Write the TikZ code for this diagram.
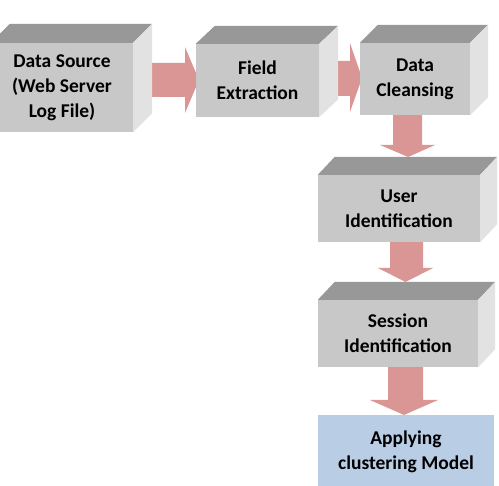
\documentclass[tikz,border=0pt]{standalone}
\usepackage{fontspec}
\setmainfont{Carlito}
\definecolor{frontgray}{HTML}{C8C8C8}
\definecolor{topgray}{HTML}{989898}
\definecolor{sidegray}{HTML}{E2E2E2}
\definecolor{arrowpink}{HTML}{D99694}
\definecolor{modelblue}{HTML}{B9CDE5}
\tikzset{
  face/.style={fill=frontgray, draw=none, align=center, inner sep=0pt,
    font=\fontsize{19.5}{25}\selectfont\bfseries, text=black},
  bluebox/.style={fill=modelblue, draw=none, align=center, inner sep=0pt,
    font=\fontsize{19.5}{25}\selectfont\bfseries, text=black},
  topface/.style={fill=topgray, draw=none},
  sideface/.style={fill=sidegray, draw=none},
  blockarrow/.style={fill=arrowpink, draw=none}
}
\newcommand{\cubefaces}[3]{%
  \fill[topface] (#1.north west) -- ++(#2,-#3) -- ([shift={(#2,-#3)}]#1.north east) -- (#1.north east) -- cycle;
  \fill[sideface] (#1.north east) -- ++(#2,-#3) -- ([shift={(#2,-#3)}]#1.south east) -- (#1.south east) -- cycle;
}
\begin{document}
\begin{tikzpicture}[x=1pt,y=-1pt]
\useasboundingbox (0,0) rectangle (499,486);
\clip (0,0) rectangle (499,486);
% invisible placement of the named boxes
\path (62,87.5) coordinate (srcc) (257.5,80.5) coordinate (fldc) (415,79) coordinate (clnc)
      (399,208.5) coordinate (usrc) (398,333.5) coordinate (sesc) (406,452) coordinate (mdlc);
\path node[minimum width=142pt, minimum height=89pt, inner sep=0pt] (src) at (srcc) {}
      node[minimum width=123pt, minimum height=73pt, inner sep=0pt] (fld) at (fldc) {}
      node[minimum width=110pt, minimum height=72pt, inner sep=0pt] (cln) at (clnc) {}
      node[minimum width=162pt, minimum height=67pt, inner sep=0pt] (usr) at (usrc) {}
      node[minimum width=160pt, minimum height=67pt, inner sep=0pt] (ses) at (sesc) {}
      node[minimum width=176pt, minimum height=74pt, inner sep=0pt] (mdl) at (mdlc) {};
% block arrows (drawn first, behind the cubes)
\fill[blockarrow] (src.east |- 0,63) -- (185,63) -- (185,47) -- (199,80) -- (185,113) -- (185,97) -- (src.east |- 0,97) -- cycle;
\fill[blockarrow] (fld.east |- 0,61) -- (350,61) -- (350,43) -- (362,78) -- (350,112) -- (350,96) -- (fld.east |- 0,96) -- cycle;
\fill[blockarrow] (393,0 |- cln.south) -- (422,0 |- cln.south) -- (422,145) -- (435,145) -- (408,157) -- (380,145) -- (393,145) -- cycle;
\fill[blockarrow] (390,0 |- usr.south) -- (423,0 |- usr.south) -- (423,268) -- (433,268) -- (405.5,282) -- (378,268) -- (390,268) -- cycle;
\fill[blockarrow] (388,0 |- ses.south) -- (423,0 |- ses.south) -- (423,400) -- (438,400) -- (404,415) -- (370,400) -- (388,400) -- cycle;
% front faces with text
\node[face, minimum width=142pt, minimum height=89pt] at (src) {Data Source\\(Web Server\\Log File)};
\node[face, minimum width=123pt, minimum height=73pt] at (fld) {Field\\Extraction};
\node[face, minimum width=110pt, minimum height=72pt] at (cln) {Data\\Cleansing};
\node[face, minimum width=162pt, minimum height=67pt] at (usr) {User\\Identification};
\node[face, minimum width=160pt, minimum height=67pt] at (ses) {Session\\Identification};
\node[bluebox, minimum width=176pt, minimum height=74pt] at (mdl) {Applying\\clustering Model};
\cubefaces{src}{19}{19}
\cubefaces{fld}{19}{18}
\cubefaces{cln}{18}{18}
\cubefaces{usr}{17}{18}
\cubefaces{ses}{17}{18}
\end{tikzpicture}
\end{document}
